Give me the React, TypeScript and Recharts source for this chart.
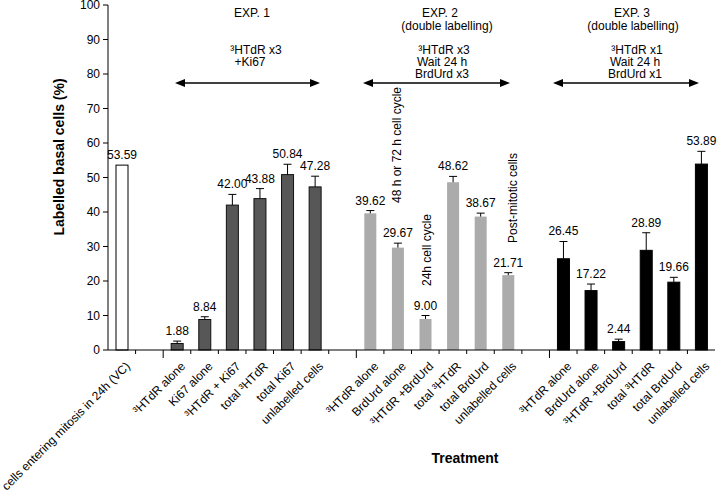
import React from "react";
import { BarChart, Bar, XAxis, YAxis } from "recharts";

const labels = [
  "cells entering mitosis in 24h (VC)", "",
  "³HTdR alone", "Ki67 alone", "³HTdR + Ki67", "total  ³HTdR", "total Ki67", "unlabelled cells", "",
  "³HTdR alone", "BrdUrd alone", "³HTdR +BrdUrd", "total  ³HTdR", "total BrdUrd", "unlabelled cells", "",
  "³HTdR alone", "BrdUrd alone", "³HTdR +BrdUrd", "total  ³HTdR", "total BrdUrd", "unlabelled cells",
];
const values = [
  53.59, null,
  1.88, 8.84, 42.0, 43.88, 50.84, 47.28, null,
  39.62, 29.67, 9.0, 48.62, 38.67, 21.71, null,
  26.45, 17.22, 2.44, 28.89, 19.66, 53.89,
];
// upper error only (SEM)
const errors = [
  0, 0,
  0.7, 0.8, 3.1, 2.9, 3.0, 3.1, 0,
  0.8, 1.3, 1.0, 1.7, 1.0, 0.7, 0,
  5.0, 1.9, 0.7, 5.1, 1.4, 3.7,
];
const groups = [
  "vc", "",
  "exp1", "exp1", "exp1", "exp1", "exp1", "exp1", "",
  "exp2", "exp2", "exp2", "exp2", "exp2", "exp2", "",
  "exp3", "exp3", "exp3", "exp3", "exp3", "exp3",
];
const yTicks = [0, 10, 20, 30, 40, 50, 60, 70, 80, 90, 100];

const data = labels.map((label, i) => ({
  idx: i,
  label,
  value: values[i],
  err: errors[i],
  group: groups[i],
}));

const groupStyle: Record<string, { fill: string; stroke: string }> = {
  vc: { fill: "#ffffff", stroke: "#000000" },
  exp1: { fill: "#575757", stroke: "#111111" },
  exp2: { fill: "#ababab", stroke: "none" },
  exp3: { fill: "#000000", stroke: "#000000" },
};

const W = 720;
const H = 490;
const M = { top: 5, right: 5, left: 0, bottom: 0 };
const Y_W = 108;
const BAND = (W - Y_W - M.right) / labels.length;

const FONT = "'Liberation Sans', Arial, Helvetica, sans-serif";

const BarShape = (props: any) => {
  const { x, y, width, height, payload } = props;
  if (payload == null || payload.value == null || !height) return null;
  const ppu = height / payload.value;
  const cx = x + width / 2;
  const top = y - payload.err * ppu;
  const st = groupStyle[payload.group];
  return (
    <g>
      <rect x={x} y={y} width={width} height={height} fill={st.fill} stroke={st.stroke} strokeWidth={1} />
      {payload.err > 0 && (
        <g stroke="#000" strokeWidth={1}>
          <line x1={cx} x2={cx} y1={y} y2={top} />
          <line x1={cx - 4} x2={cx + 4} y1={top} y2={top} />
        </g>
      )}
      <text x={cx} y={top - 6} textAnchor="middle" fontSize={12} fill="#000">
        {payload.value.toFixed(2)}
      </text>
    </g>
  );
};

const XTick = (props: any) => {
  const { x, y, payload } = props;
  const i = payload.value;
  const label = labels[i];
  const bx = x - BAND / 2;
  const groupStart = i === 2 || i === 9 || i === 16;
  const ax = x + 9;
  const ay = y + 17;
  return (
    <g>
      {i > 0 && <line x1={bx} x2={bx} y1={y} y2={y + (groupStart ? 8 : 4)} stroke="#000" />}
      {label && (
        <text
          x={ax}
          y={ay}
          textAnchor="end"
          fontSize={12}
          fill="#000"
          transform={`rotate(-45, ${ax}, ${ay})`}
        >
          {label}
        </text>
      )}
    </g>
  );
};

const Arrow = ({ x1, x2, y }: { x1: number; x2: number; y: number }) => (
  <g>
    <line x1={x1 + 8} x2={x2 - 8} y1={y} y2={y} stroke="#000" strokeWidth={1.5} />
    <polygon points={`${x1},${y} ${x1 + 10},${y - 4} ${x1 + 10},${y + 4}`} fill="#000" />
    <polygon points={`${x2},${y} ${x2 - 10},${y - 4} ${x2 - 10},${y + 4}`} fill="#000" />
  </g>
);

const Annotations = () => (
  <svg
    width={W}
    height={H}
    style={{ position: "absolute", left: 0, top: 0, pointerEvents: "none", fontFamily: FONT }}
  >
    <g fontSize={12} fill="#000" textAnchor="middle">
      <text x={252} y={17}>EXP. 1</text>
      <text x={256} y={54}>³HTdR x3</text>
      <text x={250} y={66}>+Ki67</text>

      <text x={440} y={17}>EXP. 2</text>
      <text x={447} y={30}>(double labelling)</text>
      <text x={444} y={54}>³HTdR x3</text>
      <text x={442} y={66}>Wait 24 h</text>
      <text x={442} y={78}>BrdUrd x3</text>

      <text x={632} y={17}>EXP. 3</text>
      <text x={633} y={30}>(double labelling)</text>
      <text x={637} y={54}>³HTdR x1</text>
      <text x={635} y={66}>Wait 24 h</text>
      <text x={635} y={78}>BrdUrd x1</text>

      <text x={401} y={145} transform="rotate(-90, 401, 145)">48 h or 72 h cell cycle</text>
      <text x={431} y={250} transform="rotate(-90, 431, 250)">24h cell cycle</text>
      <text x={517} y={198} transform="rotate(-90, 517, 198)">Post-mitotic cells</text>
    </g>
    <Arrow x1={175} x2={320} y={83} />
    <Arrow x1={363} x2={510} y={83} />
    <Arrow x1={553} x2={699} y={83} />
    <text x={64} y={157} transform="rotate(-90, 64, 157)" textAnchor="middle" fontSize={14} fontWeight="bold">
      Labelled basal cells (%)
    </text>
    <text x={465} y={463} textAnchor="middle" fontSize={14} fontWeight="bold">
      Treatment
    </text>
  </svg>
);

export default function App() {
  return (
    <div style={{ position: "absolute", left: 0, top: 0, width: W, height: H, background: "#fff", fontFamily: FONT }}>
      <BarChart width={W} height={H} data={data} margin={M} barSize={12}>
        <XAxis
          dataKey="idx"
          type="category"
          interval={0}
          height={140}
          tickLine={false}
          tickSize={0}
          tickMargin={0}
          axisLine={{ stroke: "#000" }}
          tick={<XTick />}
        />
        <YAxis
          domain={[0, 100]}
          ticks={yTicks}
          interval={0}
          width={Y_W}
          tickSize={5}
          tickMargin={3}
          axisLine={{ stroke: "#000" }}
          tickLine={{ stroke: "#000" }}
          tick={{ fill: "#000", fontSize: 12 }}
        />
        <Bar dataKey="value" isAnimationActive={false} shape={<BarShape />} />
      </BarChart>
      <Annotations />
    </div>
  );
}
